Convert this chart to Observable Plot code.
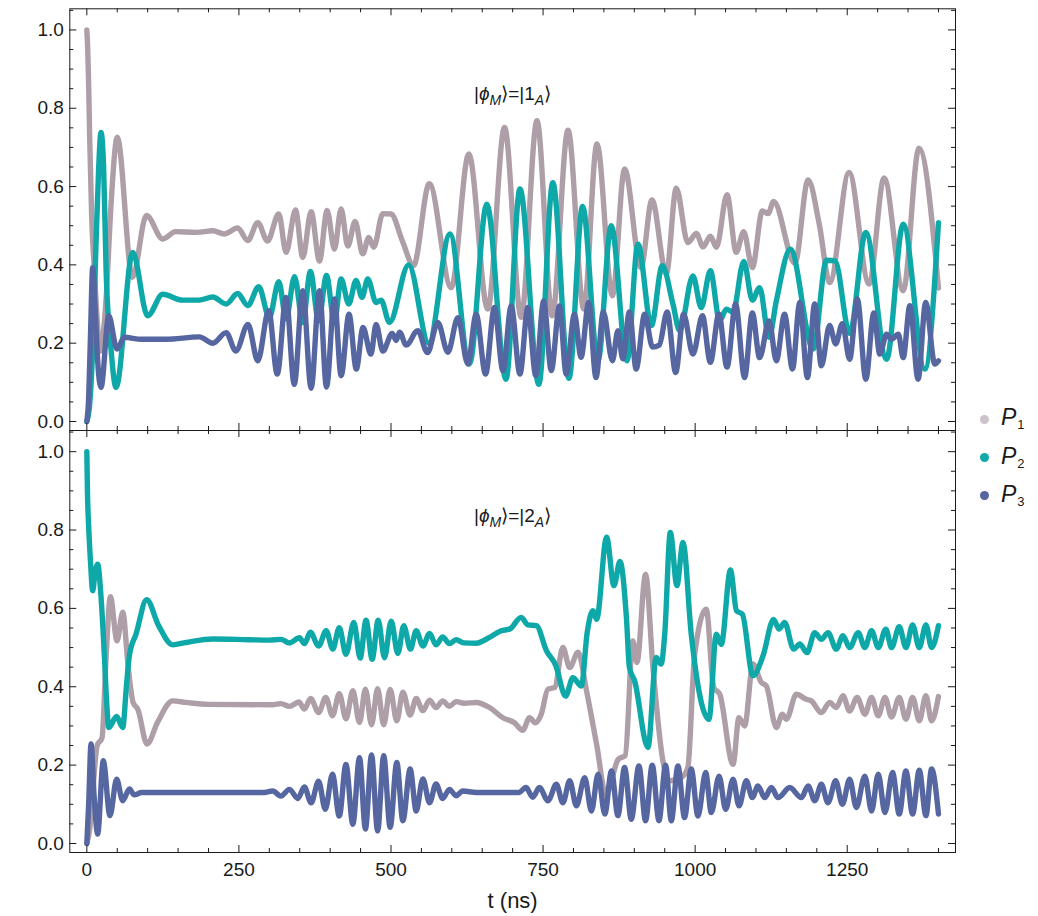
<!DOCTYPE html>
<html>
<head>
<meta charset="utf-8">
<script src="https://cdn.jsdelivr.net/npm/d3@7"></script>
<script src="https://cdn.jsdelivr.net/npm/@observablehq/plot@0.6"></script>
<style>
  html, body { margin: 0; padding: 0; background: #fff; overflow: hidden; }
  #root { position: relative; width: 1038px; height: 916px; font-family: "Liberation Sans", Arial, sans-serif; }
  #root svg { display: block; }
  .leg { position: absolute; left: 980px; height: 24px; display: flex; align-items: center; line-height: 24px; color: #1a1a1a; }
  .leg .dot { width: 9px; height: 9px; border-radius: 50%; margin-right: 12px; }
  .leg .lab { font-size: 23px; font-style: italic; white-space: nowrap; }
  .leg .lab span { font-size: 13px; font-style: normal; position: relative; top: 4px; margin-left: 1px; }
</style>
</head>
<body>
<div id="root">
  <div id="top"></div>
  <div id="bot"></div>
</div>
<script>
// ---------- data ----------
const seriesNames = ["P1", "P2", "P3"];
const lineColors = ["#ad9ea8", "#0ea8a8", "#5666a1"];
const legendColors = ["#cdc2c9", "#12a9a9", "#5565a0"];
const kets = ["1", "2"];

const xMajor = [0, 250, 500, 750, 1000, 1250];
const xMinor = [50, 100, 150, 200, 300, 350, 400, 450, 550, 600, 650, 700, 800, 850, 900, 950, 1050, 1100, 1150, 1200, 1300, 1350, 1400];
const yMajor = [0, 0.2, 0.4, 0.6, 0.8, 1.0];
const yMinor = [0.05, 0.1, 0.15, 0.25, 0.3, 0.35, 0.45, 0.5, 0.55, 0.65, 0.7, 0.75, 0.85, 0.9, 0.95, 1.05];

// top panel |phi_M> = |1_A>
const topP1 = [[0,1.0],[1.5,0.95],[3,0.86],[4.6,0.73],[8,0.52],[12.3,0.39],[17,0.26],[22,0.18],[31.5,0.31],[40,0.56],[50,0.726],[75,0.368],[98,0.526],[125,0.466],[146,0.485],[180,0.483],[207,0.487],[226,0.479],[248,0.494],[264.5,0.462],[281,0.508],[297,0.461],[315.5,0.53],[327.6,0.432],[343,0.54],[355,0.419],[368.7,0.536],[382.4,0.41],[395,0.539],[407,0.44],[418,0.543],[429,0.448],[441,0.511],[453.6,0.428],[463.5,0.47],[471.7,0.445],[486.6,0.531],[500,0.53],[519,0.46],[537,0.398],[563,0.607],[599,0.342],[628,0.683],[659,0.287],[686.7,0.751],[714,0.266],[740,0.768],[765,0.27],[791,0.744],[817,0.287],[838.6,0.709],[864,0.321],[884,0.645],[911,0.393],[929,0.566],[952.6,0.377],[969,0.596],[988,0.457],[1002,0.48],[1013,0.446],[1025,0.473],[1035,0.445],[1052.4,0.579],[1067.6,0.432],[1079.8,0.485],[1094,0.393],[1110.5,0.538],[1120,0.531],[1129,0.562],[1164,0.404],[1185.7,0.617],[1204,0.504],[1221.3,0.355],[1253,0.636],[1286,0.351],[1310.6,0.622],[1342,0.334],[1368,0.698],[1400,0.341]];
const topP2 = [[0,0],[5,0.05],[10,0.2],[15,0.45],[19.5,0.65],[23.3,0.738],[27.6,0.65],[31.6,0.39],[40,0.18],[48,0.087],[75.4,0.432],[100,0.27],[124.7,0.325],[157.6,0.31],[185,0.31],[207,0.318],[229,0.30],[248,0.327],[264.5,0.296],[282.6,0.344],[300,0.266],[315.5,0.357],[327.6,0.262],[341.4,0.37],[355,0.253],[367.5,0.383],[381,0.257],[394,0.373],[407,0.253],[418,0.364],[430.6,0.3],[442.5,0.36],[452.4,0.317],[461.8,0.364],[475.5,0.304],[483.7,0.31],[497.5,0.253],[529,0.40],[562,0.2],[597,0.479],[629,0.147],[657.5,0.555],[689,0.108],[712,0.594],[743,0.095],[766,0.61],[792.5,0.11],[815,0.549],[840.2,0.155],[862,0.5],[888,0.155],[906,0.453],[928,0.245],[946,0.398],[963.5,0.3],[974.6,0.232],[996.4,0.372],[1010,0.291],[1025,0.385],[1040.3,0.257],[1051.3,0.287],[1062,0.279],[1080,0.409],[1094,0.31],[1106,0.342],[1121.5,0.215],[1133.5,0.308],[1156.5,0.44],[1194,0.185],[1216,0.412],[1230,0.41],[1254,0.225],[1280.6,0.483],[1314.7,0.159],[1342,0.504],[1377.5,0.134],[1400,0.508]];
const topP3 = [[0,0],[3,0.06],[6,0.22],[9.6,0.393],[14,0.28],[18,0.15],[23.3,0.087],[36,0.27],[49.6,0.185],[61.6,0.215],[90,0.21],[130,0.21],[185,0.216],[207,0.2],[229,0.227],[245,0.18],[265,0.248],[281,0.155],[299,0.283],[313,0.121],[327.6,0.317],[341,0.095],[355,0.334],[368.7,0.085],[382.4,0.334],[394,0.088],[407,0.313],[418,0.117],[431,0.274],[443,0.134],[454,0.24],[467,0.172],[475.5,0.248],[486.6,0.18],[502,0.225],[508.5,0.207],[514,0.228],[525,0.195],[544,0.232],[560,0.176],[577,0.253],[593.5,0.177],[610,0.265],[626.3,0.147],[640,0.274],[655.5,0.121],[670,0.291],[684,0.13],[697.6,0.295],[712,0.121],[725,0.291],[738,0.117],[751,0.308],[763.5,0.13],[777,0.295],[788,0.121],[801.5,0.274],[812.5,0.164],[825,0.304],[837,0.112],[849,0.28],[864,0.155],[873,0.232],[881,0.16],[892,0.28],[903,0.134],[917,0.274],[930,0.19],[941,0.195],[954,0.28],[968,0.125],[981,0.274],[996.4,0.172],[1012,0.27],[1025,0.151],[1039,0.274],[1052.4,0.139],[1066.5,0.3],[1081.3,0.112],[1094,0.277],[1106,0.163],[1121.5,0.257],[1133.5,0.155],[1147,0.274],[1160,0.134],[1172,0.304],[1184.6,0.112],[1196.5,0.30],[1207.5,0.142],[1221,0.245],[1231,0.198],[1242,0.25],[1254,0.159],[1266.6,0.313],[1280.6,0.108],[1293.7,0.277],[1303.6,0.172],[1314.7,0.223],[1322.9,0.21],[1334,0.223],[1342,0.163],[1353,0.296],[1366.5,0.108],[1379,0.304],[1394,0.147],[1400,0.155]];

// bottom panel |phi_M> = |2_A>
const botP1 = [[0,0],[5,0.04],[9.6,0.13],[17,0.25],[25,0.27],[31.5,0.47],[38.7,0.63],[49.6,0.517],[59,0.59],[68,0.45],[76,0.36],[84,0.342],[98.9,0.254],[116.5,0.31],[141,0.364],[163,0.36],[200,0.355],[305,0.354],[319,0.357],[333,0.35],[348.6,0.361],[357.6,0.343],[368,0.37],[381,0.334],[392.8,0.373],[403.8,0.326],[415,0.382],[426,0.318],[437.3,0.39],[448.2,0.309],[458,0.394],[468,0.303],[478,0.395],[488,0.303],[498.6,0.393],[509.6,0.313],[519.5,0.386],[531.5,0.328],[541.4,0.37],[552.4,0.339],[563.4,0.366],[574,0.347],[585,0.364],[596,0.35],[607,0.362],[620,0.358],[640,0.36],[662,0.347],[684,0.321],[703,0.308],[716.6,0.289],[727.8,0.321],[737.5,0.308],[747,0.33],[758,0.394],[769,0.398],[782.6,0.5],[793.8,0.449],[807.5,0.488],[821.4,0.39],[838,0.253],[853.4,0.125],[873.7,0.215],[885,0.224],[897.7,0.517],[904.3,0.462],[918.5,0.687],[930.6,0.449],[947,0.211],[958,0.16],[977,0.168],[988,0.194],[999,0.479],[1018.3,0.598],[1030.5,0.398],[1040.4,0.381],[1062.3,0.202],[1072,0.321],[1081.4,0.3],[1095,0.458],[1108.8,0.411],[1117,0.402],[1133.5,0.296],[1143.3,0.33],[1150,0.317],[1166.4,0.381],[1182.8,0.368],[1191,0.364],[1207.5,0.334],[1221.2,0.36],[1232,0.347],[1243,0.377],[1254,0.338],[1266.3,0.373],[1279,0.33],[1290,0.373],[1301,0.326],[1312,0.373],[1322.9,0.323],[1335.5,0.373],[1346.5,0.317],[1357.5,0.373],[1368.4,0.313],[1379.4,0.377],[1388.7,0.313],[1400,0.375]];
const botP2 = [[0,1.0],[1,0.9],[3,0.81],[6,0.72],[9.6,0.645],[13.5,0.69],[17.8,0.713],[23.3,0.63],[28.8,0.48],[33,0.35],[36,0.296],[49,0.324],[59,0.296],[65,0.4],[70,0.48],[81,0.535],[98.4,0.622],[118,0.556],[141,0.507],[163,0.513],[207,0.522],[267,0.52],[300,0.519],[319,0.521],[333,0.512],[349.5,0.525],[357.6,0.51],[367.6,0.539],[381,0.504],[393.4,0.543],[404.3,0.496],[415,0.551],[426,0.483],[438.9,0.564],[449.3,0.473],[459,0.57],[469,0.47],[479,0.57],[489.3,0.474],[500.3,0.567],[511.3,0.485],[521,0.556],[532,0.496],[541.4,0.543],[552.4,0.504],[563.4,0.536],[574,0.507],[585,0.527],[596,0.51],[607,0.52],[620,0.512],[640,0.511],[662,0.526],[681,0.543],[695,0.547],[714,0.577],[725,0.558],[739,0.556],[755.6,0.492],[771,0.454],[787,0.376],[799,0.423],[813,0.402],[822.5,0.538],[832,0.594],[838,0.572],[854.5,0.782],[866.5,0.658],[876.4,0.72],[887,0.577],[892,0.449],[900.5,0.415],[922.4,0.245],[936,0.475],[944,0.458],[950,0.534],[959.2,0.794],[970,0.658],[980,0.768],[993.6,0.534],[1022.7,0.317],[1034.8,0.534],[1043,0.508],[1058,0.698],[1068,0.594],[1077.6,0.585],[1095,0.428],[1111.6,0.479],[1129,0.572],[1138,0.547],[1147,0.564],[1162,0.496],[1172,0.509],[1184,0.487],[1196.5,0.538],[1207.5,0.521],[1218.4,0.538],[1232,0.496],[1243,0.53],[1254,0.5],[1268,0.538],[1279,0.5],[1290,0.543],[1301,0.5],[1313.5,0.547],[1322.9,0.5],[1335.5,0.553],[1346.5,0.5],[1357.5,0.558],[1368.4,0.5],[1379.4,0.558],[1388.7,0.5],[1400,0.556]];
const botP3 = [[0,0],[3,0.1],[6.9,0.254],[12,0.12],[17.8,0.024],[27,0.211],[38,0.071],[49,0.164],[59,0.109],[70,0.139],[78,0.124],[90,0.13],[289,0.13],[305.6,0.134],[319,0.121],[333,0.138],[346.8,0.115],[357.6,0.144],[368.7,0.104],[381,0.159],[392,0.087],[403.8,0.177],[415,0.07],[426,0.202],[437.3,0.049],[448.2,0.219],[458,0.037],[468,0.226],[478,0.032],[488,0.224],[498.6,0.041],[509.6,0.207],[519.5,0.058],[531.5,0.19],[541.4,0.083],[552.4,0.165],[563.4,0.104],[574,0.152],[585,0.115],[596,0.138],[607,0.122],[618,0.134],[640,0.13],[710,0.13],[722,0.143],[733,0.118],[744,0.143],[758,0.109],[771.9,0.151],[782.6,0.104],[793.8,0.16],[804.7,0.096],[818.5,0.168],[829.5,0.083],[840.5,0.177],[851.5,0.075],[862.5,0.185],[873,0.071],[884,0.194],[895,0.062],[907.6,0.198],[918.5,0.058],[929.5,0.2],[940.5,0.058],[951.4,0.2],[960.8,0.058],[971.7,0.198],[982.6,0.066],[993.6,0.19],[1004.6,0.07],[1017.3,0.181],[1026.6,0.079],[1039.3,0.172],[1050.2,0.087],[1062.3,0.164],[1072.1,0.096],[1084.2,0.16],[1094,0.117],[1103.3,0.147],[1114.3,0.117],[1125.3,0.143],[1136.3,0.117],[1155.5,0.143],[1174.7,0.117],[1185.7,0.147],[1196.7,0.109],[1207.5,0.151],[1218.4,0.104],[1231,0.16],[1242,0.1],[1254,0.164],[1265,0.092],[1279,0.172],[1290,0.083],[1301,0.177],[1312,0.079],[1324.6,0.181],[1335.5,0.075],[1346.5,0.185],[1357.5,0.075],[1368.4,0.187],[1379.4,0.071],[1388.7,0.19],[1400,0.075]];

// ---------- layout ----------
const W = 1038, ML = 69.3, MR = 83;
const INK = "#1a1a1a";
const FONT = "'Liberation Sans', Arial, sans-serif";
const xDomain = [-28, 1428];
const yDomain = [-0.023, 1.054];

function titleText(k) { return "|ϕM⟩=|" + k + "A⟩"; }

function panel(seriesData, ket, opts) {
  const {height, marginTop, marginBottom, showXLabels} = opts;
  const PW = W - ML - MR;
  const PH = height - marginTop - marginBottom;
  const marks = [];
  seriesData.forEach((data, i) => {
    marks.push(Plot.line(data, {
      x: d => d[0], y: d => d[1], stroke: lineColors[i], strokeWidth: 5.4,
      curve: "monotone-x", strokeLinecap: "round", strokeLinejoin: "round"
    }));
  });
  marks.push(Plot.frame({stroke: INK, strokeWidth: 1}));
  // inward ticks, left and right
  marks.push(Plot.tickY(yMajor, {y: d => d, insetRight: PW - 7, stroke: INK}));
  marks.push(Plot.tickY(yMinor, {y: d => d, insetRight: PW - 4, stroke: INK}));
  marks.push(Plot.tickY(yMajor, {y: d => d, insetLeft: PW - 7, stroke: INK}));
  marks.push(Plot.tickY(yMinor, {y: d => d, insetLeft: PW - 4, stroke: INK}));
  // inward ticks, bottom and top
  marks.push(Plot.tickX(xMajor, {x: d => d, insetTop: PH - 7, stroke: INK}));
  marks.push(Plot.tickX(xMinor, {x: d => d, insetTop: PH - 4, stroke: INK}));
  marks.push(Plot.tickX(xMajor, {x: d => d, insetBottom: PH - 7, stroke: INK}));
  marks.push(Plot.tickX(xMinor, {x: d => d, insetBottom: PH - 4, stroke: INK}));
  // y tick labels
  marks.push(Plot.text(yMajor, {
    y: d => d, text: d => d.toFixed(1), frameAnchor: "left", textAnchor: "end",
    lineAnchor: "middle", dx: -6, fontSize: 19, fill: INK
  }));
  // panel title
  marks.push(Plot.text([titleText(ket)], {
    text: d => d, frameAnchor: "top", lineAnchor: "middle", dy: 85.5, fontSize: 19, fill: INK
  }));
  if (showXLabels) {
    marks.push(Plot.text(xMajor, {
      x: d => d, text: d => String(d), frameAnchor: "bottom", lineAnchor: "top",
      dy: 9.5, fontSize: 19, fill: INK
    }));
    marks.push(Plot.text(["t (ns)"], {
      text: d => d, frameAnchor: "bottom", lineAnchor: "top", dy: 39.5, fontSize: 22, fill: INK
    }));
  }
  const svg = Plot.plot({
    width: W, height, marginLeft: ML, marginRight: MR, marginTop, marginBottom,
    x: {domain: xDomain, axis: null},
    y: {domain: yDomain, axis: null},
    style: {fontFamily: FONT, background: "white", color: INK, display: "block", overflow: "visible"},
    marks
  });
  // rich title: italic phi, subscripts M and A
  const NS = "http://www.w3.org/2000/svg";
  svg.querySelectorAll("text").forEach(t => {
    if (t.textContent === titleText(ket)) {
      while (t.firstChild) t.removeChild(t.firstChild);
      const parts = [
        {s: "|"},
        {s: "ϕ", it: true},
        {s: "M", it: true, sub: true},
        {s: "⟩=|" + ket, up: true},
        {s: "A", it: true, sub: true},
        {s: "⟩", up: true}
      ];
      parts.forEach(p => {
        const ts = document.createElementNS(NS, "tspan");
        ts.textContent = p.s;
        if (p.it) ts.setAttribute("font-style", "italic");
        if (p.sub) { ts.setAttribute("font-size", "14"); ts.setAttribute("dy", "4.5"); }
        if (p.up) ts.setAttribute("dy", "-4.5");
        t.appendChild(ts);
      });
    }
  });
  return svg;
}

document.getElementById("top").appendChild(
  panel([topP1, topP2, topP3], kets[0], {height: 430, marginTop: 8.3, marginBottom: 0, showXLabels: false})
);
document.getElementById("bot").appendChild(
  panel([botP1, botP2, botP3], kets[1], {height: 486, marginTop: 0, marginBottom: 64, showXLabels: true})
);

// legend
const legendCenters = [419, 457.7, 495.7];
const root = document.getElementById("root");
seriesNames.forEach((name, i) => {
  const item = document.createElement("div");
  item.className = "leg";
  item.style.top = (legendCenters[i] - 12) + "px";
  const dot = document.createElement("div");
  dot.className = "dot";
  dot.style.background = legendColors[i];
  const lab = document.createElement("div");
  lab.className = "lab";
  lab.innerHTML = name.charAt(0) + "<span>" + name.slice(1) + "</span>";
  item.appendChild(dot);
  item.appendChild(lab);
  root.appendChild(item);
});
</script>
</body>
</html>
